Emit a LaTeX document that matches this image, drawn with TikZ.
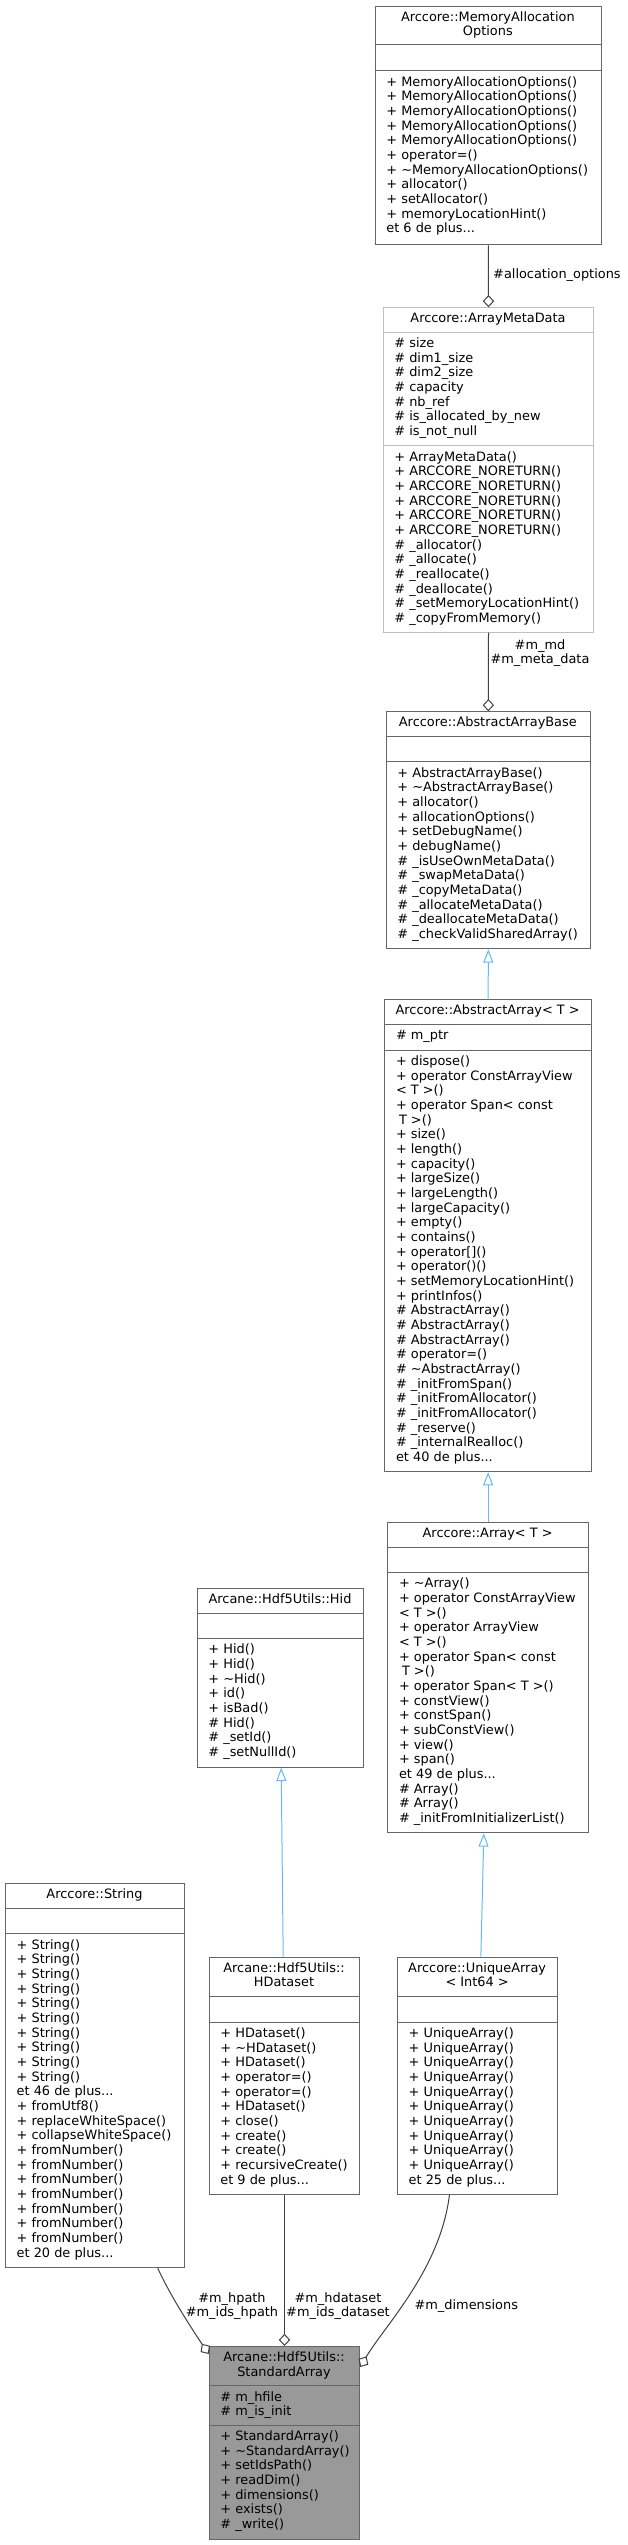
\documentclass[tikz,border=0pt]{standalone}
\usepackage{fontspec}
\setmainfont{DejaVu Sans}
\usetikzlibrary{arrows.meta}
\definecolor{cedge}{HTML}{404040}
\definecolor{cbox}{HTML}{666666}
\definecolor{clight}{HTML}{BFBFBF}
\definecolor{cinh}{HTML}{63B8FF}
\definecolor{cfill}{HTML}{999999}
\newcommand\ClassBox[9]{%
  \node[clsbox,#8,minimum width={(#3)-(#2)},minimum height={(#7)-(#4)},anchor=north west] (#1) at (#2,#4) {};
  \draw[clsline,#8] (#2,#5) -- (#3,#5) (#2,#6) -- (#3,#6);
  \node[txt,anchor=base] (#1-title) at ({((#2)+(#3))/2},{(#4)+15.5}) {\begin{tabular}[t]{@{}c@{}}#9\end{tabular}};
}
\newcommand\Members[4]{%
  \node[txt,anchor=base west] (#1) at ({(#2)+11.5},{(#3)+15.5}) {\begin{tabular}[t]{@{}l@{}}#4\end{tabular}};
}
\begin{document}
\begin{tikzpicture}[x=1pt,y=-1pt,
  font=\fontsize{12.9}{14.67}\selectfont,
  clsbox/.style={draw=cbox,fill=white,line width=1pt,inner sep=0pt,rectangle},
  clsline/.style={draw=cbox,line width=1pt},
  lightbox/.style={draw=clight},
  sabox/.style={fill=cfill},
  txt/.style={inner sep=0pt,text=black},
  agg/.style={draw=cedge,line width=1pt,-{Diamond[open,length=12.3pt,width=11.3pt]}},
  inh/.style={draw=cinh,line width=1pt,-{Triangle[open,length=13.3pt,width=10pt]}}]
\useasboundingbox (0,0) rectangle (628,2545);

% MemoryAllocationOptions
\ClassBox{mao}{374.7}{601}{5.7}{44.3}{70.7}{244.3}{}{Arccore::MemoryAllocation\\Options}
\Members{mao-m}{374.7}{70.7}{+ MemoryAllocationOptions()\\+ MemoryAllocationOptions()\\+ MemoryAllocationOptions()\\+ MemoryAllocationOptions()\\+ MemoryAllocationOptions()\\+ operator=()\\+ \textasciitilde MemoryAllocationOptions()\\+ allocator()\\+ setAllocator()\\+ memoryLocationHint()\\et 6 de plus...}

% ArrayMetaData
\ClassBox{amd}{382.7}{593.3}{307.3}{332}{445.7}{631.7}{lightbox}{Arccore::ArrayMetaData}
\Members{amd-a}{382.7}{332}{\# size\\\# dim1\_size\\\# dim2\_size\\\# capacity\\\# nb\_ref\\\# is\_allocated\_by\_new\\\# is\_not\_null}
\Members{amd-m}{382.7}{445.7}{+ ArrayMetaData()\\+ ARCCORE\_NORETURN()\\+ ARCCORE\_NORETURN()\\+ ARCCORE\_NORETURN()\\+ ARCCORE\_NORETURN()\\+ ARCCORE\_NORETURN()\\\# \_allocator()\\\# \_allocate()\\\# \_reallocate()\\\# \_deallocate()\\\# \_setMemoryLocationHint()\\\# \_copyFromMemory()}

% AbstractArrayBase
\ClassBox{aab}{385.7}{590}{711.3}{736.7}{761.7}{948.3}{}{Arccore::AbstractArrayBase}
\Members{aab-m}{385.7}{761.7}{+ AbstractArrayBase()\\+ \textasciitilde AbstractArrayBase()\\+ allocator()\\+ allocationOptions()\\+ setDebugName()\\+ debugName()\\\# \_isUseOwnMetaData()\\\# \_swapMetaData()\\\# \_copyMetaData()\\\# \_allocateMetaData()\\\# \_deallocateMetaData()\\\# \_checkValidSharedArray()}

% AbstractArray
\ClassBox{aa}{384.3}{591}{999.3}{1024.3}{1050}{1471}{}{Arccore::AbstractArray< T >}
\Members{aa-a}{384.3}{1024.3}{\# m\_ptr}
\Members{aa-m}{384.3}{1050}{+ dispose()\\+ operator ConstArrayView\\< T >()\\+ operator Span< const\\\hspace{3pt}T >()\\+ size()\\+ length()\\+ capacity()\\+ largeSize()\\+ largeLength()\\+ largeCapacity()\\+ empty()\\+ contains()\\+ operator[]()\\+ operator()()\\+ setMemoryLocationHint()\\+ printInfos()\\\# AbstractArray()\\\# AbstractArray()\\\# AbstractArray()\\\# operator=()\\\# \textasciitilde AbstractArray()\\\# \_initFromSpan()\\\# \_initFromAllocator()\\\# \_initFromAllocator()\\\# \_reserve()\\\# \_internalRealloc()\\et 40 de plus...}

% Array
\ClassBox{arr}{387.3}{588}{1522}{1547.3}{1572.3}{1832.3}{}{Arccore::Array< T >}
\Members{arr-m}{387.3}{1572.3}{+ \textasciitilde Array()\\+ operator ConstArrayView\\< T >()\\+ operator ArrayView\\< T >()\\+ operator Span< const\\\hspace{3pt}T >()\\+ operator Span< T >()\\+ constView()\\+ constSpan()\\+ subConstView()\\+ view()\\+ span()\\et 49 de plus...\\\# Array()\\\# Array()\\\# \_initFromInitializerList()}

% Hid
\ClassBox{hid}{196.7}{363.3}{1588.3}{1613.3}{1638.3}{1766.7}{}{Arcane::Hdf5Utils::Hid}
\Members{hid-m}{196.7}{1638.3}{+ Hid()\\+ Hid()\\+ \textasciitilde Hid()\\+ id()\\+ isBad()\\\# Hid()\\\# \_setId()\\\# \_setNullId()}

% String
\ClassBox{str}{5}{184}{1883.3}{1908.3}{1933.7}{2267.3}{}{Arccore::String}
\Members{str-m}{5}{1933.7}{+ String()\\+ String()\\+ String()\\+ String()\\+ String()\\+ String()\\+ String()\\+ String()\\+ String()\\+ String()\\et 46 de plus...\\+ fromUtf8()\\+ replaceWhiteSpace()\\+ collapseWhiteSpace()\\+ fromNumber()\\+ fromNumber()\\+ fromNumber()\\+ fromNumber()\\+ fromNumber()\\+ fromNumber()\\+ fromNumber()\\et 20 de plus...}

% HDataset
\ClassBox{hd}{208.7}{359.3}{1956.7}{1996.7}{2022}{2194}{}{Arcane::Hdf5Utils::\\HDataset}
\Members{hd-m}{208.7}{2022}{+ HDataset()\\+ \textasciitilde HDataset()\\+ HDataset()\\+ operator=()\\+ operator=()\\+ HDataset()\\+ close()\\+ create()\\+ create()\\+ recursiveCreate()\\et 9 de plus...}

% UniqueArray
\ClassBox{ua}{397}{557.3}{1956.7}{1996.7}{2022}{2194}{}{Arccore::UniqueArray\\< Int64 >}
\Members{ua-m}{397}{2022}{+ UniqueArray()\\+ UniqueArray()\\+ UniqueArray()\\+ UniqueArray()\\+ UniqueArray()\\+ UniqueArray()\\+ UniqueArray()\\+ UniqueArray()\\+ UniqueArray()\\+ UniqueArray()\\et 25 de plus...}

% StandardArray
\ClassBox{sa}{208.7}{359.3}{2346}{2385.7}{2425}{2539.3}{sabox}{Arcane::Hdf5Utils::\\StandardArray}
\Members{sa-a}{208.7}{2385.7}{\# m\_hfile\\\# m\_is\_init}
\Members{sa-m}{208.7}{2425}{+ StandardArray()\\+ \textasciitilde StandardArray()\\+ setIdsPath()\\+ readDim()\\+ dimensions()\\+ exists()\\\# \_write()}

% connectors
\draw[agg] (mao.south) -- (amd.north);
\node[txt,anchor=base west] (l1) at (493,278) {\#allocation\_options};
\draw[agg] (amd.south) -- (aab.north);
\node[txt,anchor=base] (l2) at (540,649) {\begin{tabular}[t]{@{}c@{}}\#m\_md\\\#m\_meta\_data\end{tabular}};
\draw[inh] (aa.north) -- (aab.south);
\draw[inh] (arr.north) -- (aa.south);
\draw[inh] ([xshift=3.2pt]ua.north) -- ([xshift=-4.3pt]arr.south);
\draw[inh] ([xshift=-1.3pt]hd.north) -- ([xshift=0.7pt]hid.south);
\draw[agg] (hd.south) -- (sa.north);
\node[txt,anchor=base] (l3) at (338,2302) {\begin{tabular}[t]{@{}c@{}}\#m\_hdataset\\\#m\_ids\_dataset\end{tabular}};
\draw[agg] ([xshift=62.8pt]str.south) .. controls (170,2295) and (190,2326) .. ([yshift=-8pt]sa.north west);
\node[txt,anchor=base] (l4) at (232,2302) {\begin{tabular}[t]{@{}c@{}}\#m\_hpath\\\#m\_ids\_hpath\end{tabular}};
\draw[agg] ([xshift=-28.2pt]ua.south) .. controls (440,2270) and (385,2325) .. ([yshift=-21pt]sa.north east);
\node[txt,anchor=base] (l5) at (466.3,2309.7) {\#m\_dimensions};
\end{tikzpicture}
\end{document}
